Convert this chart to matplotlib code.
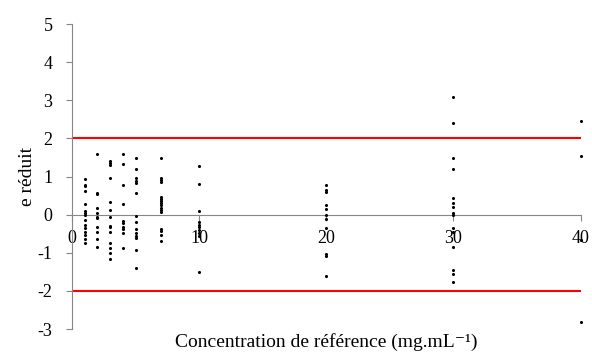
import numpy as np
import matplotlib
matplotlib.use('Agg')
import matplotlib.pyplot as plt

plt.rcParams['font.family'] = ['Liberation Serif', 'DejaVu Serif']
plt.rcParams['axes.unicode_minus'] = False

# concentrations de reference et e reduit
conc = [1, 2, 3, 4, 5, 7, 10, 20, 30, 40]
e_c1 = [0.93, 0.78, 0.75, 0.61, 0.28, 0.10, 0.05, 0.0, -0.14, -0.28, -0.36,
        -0.45, -0.53, -0.64, -0.75]
e_c2 = [1.59, 0.58, 0.54, 0.17, 0.03, -0.05, -0.10, -0.33, -0.46, -0.63, -0.85]
e_c3 = [1.41, 1.36, 1.29, 0.95, 0.33, 0.12, -0.05, -0.30, -0.33, -0.46, -0.74,
        -0.87, -1.0, -1.17]
e_c4 = [1.59, 1.33, 0.77, 0.27, -0.18, -0.23, -0.33, -0.39, -0.49, -0.88]
e_c5 = [1.48, 1.19, 0.95, 0.89, 0.84, 0.56, -0.04, -0.20, -0.37, -0.49, -0.56,
        -0.61, -0.93, -1.39]
e_c7 = [1.48, 0.95, 0.91, 0.85, 0.45, 0.40, 0.35, 0.30, 0.24, 0.18, 0.12, 0.07,
        -0.39, -0.42, -0.54, -0.68]
e_c10 = [1.28, 0.80, 0.09, -0.19, -0.27, -0.33, -0.40, -0.47, -0.55, -1.51]
e_c20 = [0.78, 0.65, 0.60, 0.25, 0.16, 0.0, -0.12, -0.36, -1.02, -1.09, -1.60]
e_c30 = [3.09, 2.40, 1.48, 1.20, 0.43, 0.31, 0.21, 0.03, -0.01, -0.36, -0.45,
         -0.84, -1.45, -1.55, -1.77]
e_c40 = [2.46, 1.54, -0.67, -2.81]
e_all = [e_c1, e_c2, e_c3, e_c4, e_c5, e_c7, e_c10, e_c20, e_c30, e_c40]

limites = [2, -2]

fig = plt.figure(figsize=(5.92, 3.54), dpi=100, facecolor='white')
ax = fig.add_axes([0.1216, 0.0706, 0.859, 0.8616])

for c, ev in zip(conc, e_all):
    ax.scatter([c] * len(ev), ev, s=5, color='black', linewidths=0,
               zorder=3, clip_on=False)

for l in limites:
    ax.plot([0, 40], [l, l], color='#ff0000', lw=1.5, zorder=2)

ax.set_xlim(0, 40)
ax.set_ylim(-3, 5)
ax.set_xticks([0, 10, 20, 30, 40])
ax.set_yticks(range(-3, 6))

ax.spines['right'].set_color('none')
ax.spines['top'].set_color('none')
ax.spines['bottom'].set_position(('data', 0))
ax.spines['bottom'].set_color('#868686')
ax.spines['left'].set_color('#868686')
ax.tick_params(axis='x', colors='#868686', direction='out', length=4,
               width=0.8, pad=7, labelcolor='black', labelsize=13)
ax.tick_params(axis='y', colors='#868686', direction='out', length=4,
               width=0.8, pad=10, labelcolor='black', labelsize=13)

ax.set_xlabel('Concentration de référence (mg.mL\u207b\u00b9)', fontsize=14)
ax.xaxis.set_label_coords(0.5, -0.012)
ax.set_ylabel('e réduit', fontsize=14)
ax.yaxis.set_label_coords(-0.07, 0.5)

fig.savefig('out.png', dpi=100)
